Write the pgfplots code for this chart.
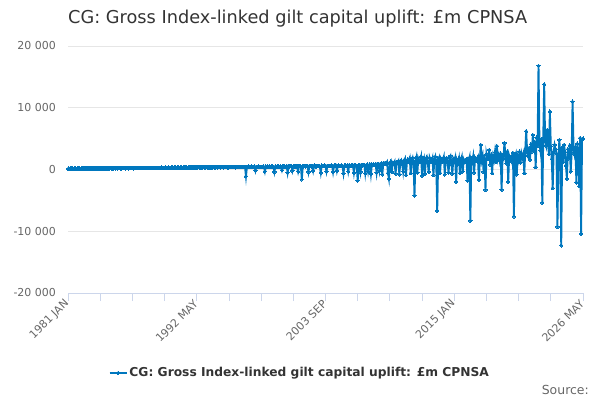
\documentclass[border=0pt]{standalone}
\usepackage{fontspec}
\setmainfont{DejaVu Sans}
\usepackage{pgfplots}
\pgfplotsset{compat=1.18}
\definecolor{lineblue}{RGB}{0,119,190}
\definecolor{axisblue}{RGB}{204,214,235}
\definecolor{gridgray}{RGB}{230,230,230}
\definecolor{tickgray}{RGB}{102,102,102}
\definecolor{titlegray}{RGB}{51,51,51}
\begin{document}
\begin{tikzpicture}
\useasboundingbox (0,0) rectangle (600bp,400bp);
\node[anchor=west, text=titlegray, font=\fontsize{17.8}{21}\selectfont, inner sep=0pt] at (68bp,381bp) {CG: Gross Index-linked gilt capital uplift: £m CPNSA};
\node[anchor=east, text=tickgray, font=\fontsize{12.5}{14}\selectfont, inner sep=0pt] at (589bp,10bp) {Source:};
\begin{axis}[
  at={(68bp,107bp)}, anchor=south west,
  scale only axis, width=515bp, height=247bp,
  xmin=0, xmax=544, ymin=-20000, ymax=20000,
  clip=false, scaled y ticks=false,
  axis x line*=bottom, axis y line*=left,
  x axis line style={draw=axisblue, line width=0.8pt, -},
  y axis line style={draw=none},
  ytick={-20000,-10000,0,10000,20000},
  yticklabels={-20 000,-10 000,0,10 000,20 000},
  ytick style={draw=none},
  ymajorgrids, grid style={draw=gridgray, line width=0.8pt},
  xtick={0,136,272,408,544},
  xticklabels={1981 JAN,1992 MAY,2003 SEP,2015 JAN,2026 MAY},
  minor xtick={34,68,102,170,204,238,306,340,374,442,476,510},
  xtick style={draw=axisblue, line width=0.8pt},
  minor tick style={draw=axisblue, line width=0.8pt},
  tick align=outside, major tick length=8bp, minor tick length=8bp,
  ticklabel style={font=\fontsize{11}{13}\selectfont, text=tickgray},
  xticklabel style={rotate=45, anchor=east, inner sep=1pt},
  yticklabel style={anchor=east, inner sep=2pt, xshift=-2bp},
  legend style={at={(0.45,-0.324)}, anchor=center, draw=none, fill=none,
    font=\bfseries\fontsize{12.3}{14}\selectfont, text=titlegray},
  legend cell align=left,
]
\addplot[color=lineblue, line width=1.9pt, mark=*, mark size=1.7pt, mark options={fill=lineblue, draw=lineblue, line width=0pt}]
table[x expr=\coordindex, y index=0, row sep=\\, header=false] {
120\\140\\130\\150\\140\\160\\130\\150\\140\\120\\150\\160\\
150\\130\\160\\140\\170\\150\\140\\160\\150\\170\\140\\160\\
160\\170\\150\\180\\160\\140\\170\\180\\150\\160\\170\\190\\
170\\180\\160\\190\\170\\200\\180\\160\\190\\200\\170\\180\\
190\\200\\180\\210\\170\\220\\200\\190\\180\\210\\200\\220\\
200\\180\\210\\220\\190\\230\\210\\200\\220\\190\\230\\210\\
220\\200\\230\\250\\210\\240\\220\\260\\230\\210\\250\\240\\
230\\250\\260\\220\\270\\240\\250\\230\\280\\260\\240\\270\\
260\\280\\250\\300\\270\\290\\260\\310\\280\\270\\300\\290\\
280\\300\\320\\290\\310\\340\\300\\280\\330\\310\\290\\320\\
310\\290\\330\\300\\350\\320\\280\\340\\310\\360\\300\\330\\
320\\340\\300\\360\\330\\310\\380\\340\\320\\350\\300\\370\\
340\\310\\360\\380\\320\\350\\400\\330\\360\\340\\390\\350\\
350\\380\\330\\400\\360\\340\\420\\370\\350\\390\\410\\360\\
380\\340\\410\\370\\430\\390\\360\\440\\380\\350\\420\\400\\
390\\420\\360\\440\\400\\380\\450\\410\\-1100\\430\\380\\460\\
420\\380\\460\\410\\390\\480\\-200\\440\\400\\470\\420\\380\\
450\\400\\480\\430\\-300\\470\\420\\500\\380\\460\\440\\510\\
460\\420\\-400\\480\\440\\520\\470\\400\\500\\450\\-100\\490\\
480\\520\\440\\560\\-500\\500\\470\\540\\490\\-200\\530\\480\\
500\\560\\470\\-300\\520\\580\\490\\-1600\\540\\500\\600\\470\\
520\\580\\-400\\550\\600\\480\\560\\-200\\620\\530\\500\\580\\
540\\600\\510\\-500\\630\\560\\520\\640\\580\\-300\\610\\550\\
570\\520\\660\\600\\-400\\620\\560\\680\\-200\\600\\650\\540\\
600\\680\\560\\-600\\640\\700\\580\\620\\-300\\690\\610\\650\\
620\\700\\-500\\660\\720\\600\\-1800\\680\\740\\-400\\700\\650\\
680\\760\\-600\\720\\800\\-300\\740\\820\\-700\\780\\700\\840\\
760\\880\\-500\\820\\900\\-200\\860\\1000\\-800\\950\\880\\1100\\
900\\1200\\-600\\-1500\\1000\\1300\\-400\\1100\\900\\1250\\-700\\1000\\
1100\\1400\\-800\\1200\\1500\\900\\-300\\1300\\1700\\-900\\1200\\1600\\
1300\\1800\\-600\\1500\\1900\\1000\\-4200\\1400\\2000\\-500\\1700\\1200\\
1500\\2100\\-1000\\1300\\1800\\-700\\1600\\2000\\1100\\-400\\1900\\1400\\
1200\\1800\\-900\\1600\\2100\\1000\\-6700\\1500\\1900\\-600\\1700\\1300\\
1400\\2000\\-800\\1600\\1800\\1100\\-500\\1900\\2200\\900\\-700\\1700\\
1300\\1900\\-2000\\1500\\1100\\1800\\-600\\1400\\2000\\-300\\1600\\1200\\
1500\\1700\\-1800\\1300\\1900\\-8300\\1600\\1200\\2100\\-500\\1800\\1400\\
1600\\2000\\-1700\\1300\\4000\\1500\\2200\\-400\\1800\\-3300\\2500\\1700\\
1900\\3200\\800\\2400\\-600\\2100\\1500\\2800\\1200\\3800\\1700\\2300\\
1400\\2600\\-3300\\2100\\1800\\4300\\2500\\1000\\2900\\-2000\\2200\\1600\\
2000\\1300\\2700\\-7600\\1800\\2400\\-800\\2100\\1500\\2900\\1100\\2600\\
1900\\2500\\-600\\3100\\6200\\2800\\2200\\3500\\1600\\4100\\2900\\5600\\
3200\\4500\\400\\5200\\3800\\16800\\4300\\3100\\4900\\-5400\\5100\\13800\\
4600\\3900\\6400\\4200\\2500\\9400\\3800\\1700\\-3000\\2900\\4000\\3300\\
2600\\-9300\\1500\\4800\\2200\\-12300\\3600\\1200\\4000\\2800\\600\\-1500\\
3300\\1800\\3900\\-300\\2700\\11000\\3400\\2500\\3700\\-2100\\4200\\3000\\
-2700\\5100\\-10400\\4900\\5000\\
};
\addlegendentry{CG: Gross Index-linked gilt capital uplift: £m CPNSA}
\end{axis}
\end{tikzpicture}
\end{document}
